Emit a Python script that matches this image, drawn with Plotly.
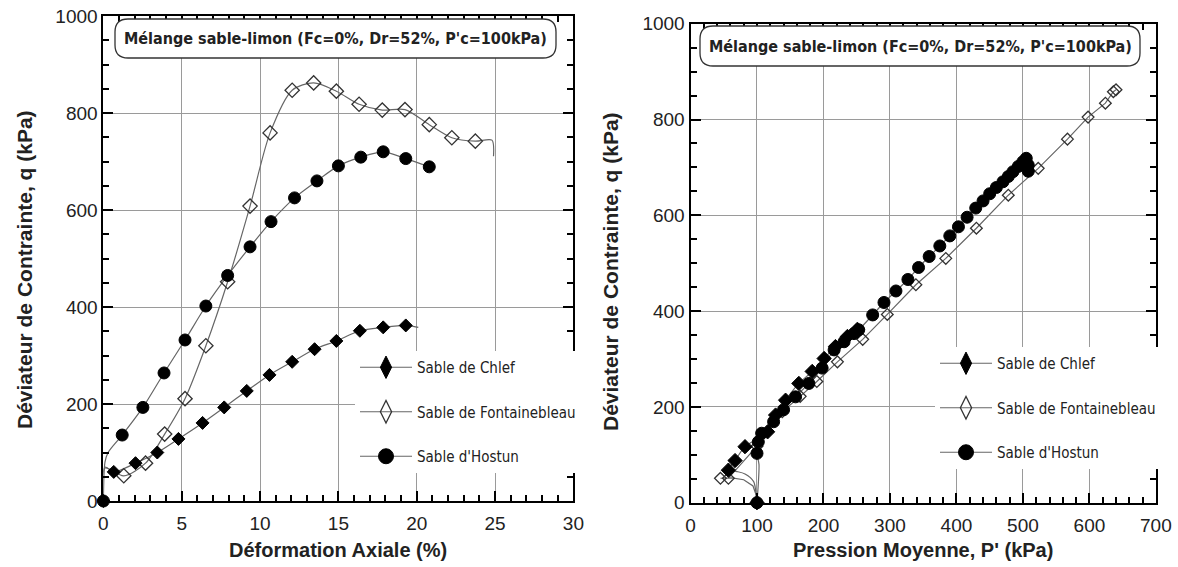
import plotly.graph_objects as go

W, H = 1178, 567

# ---------------- Left plot data: q vs axial strain ----------------
chlef_eps = [0, 0.66, 2.05, 3.44, 4.79, 6.33, 7.71, 9.15, 10.6, 12.05, 13.48, 14.87, 16.37, 17.86, 19.3]
chlef_q = [0, 60, 78, 100, 128, 161, 193, 227, 260, 287, 313, 330, 351, 358, 362]
chlef_curve_eps = [0, 0.1, 0.66, 2.05, 3.44, 4.79, 6.33, 7.71, 9.15, 10.6, 12.05, 13.48, 14.87, 16.37, 17.86, 19.3, 20.1]
chlef_curve_q = [0, 70, 60, 78, 100, 128, 161, 193, 227, 260, 287, 313, 330, 351, 358, 362, 358]

font_eps = [1.3, 2.69, 3.91, 5.21, 6.54, 7.93, 9.36, 10.64, 12.05, 13.42, 14.87, 16.32, 17.8, 19.25, 20.8, 22.24, 23.74]
font_q = [52, 78, 138, 211, 320, 452, 608, 759, 847, 862, 845, 818, 806, 807, 776, 749, 742]
font_curve_eps = [0, 0.1, 1.3, 2.69, 3.91, 5.21, 6.54, 7.93, 9.36, 10.64, 12.05, 13.42, 14.87, 16.32, 17.8, 19.25, 20.8, 22.24, 23.74, 24.8, 24.9]
font_curve_q = [0, 68, 52, 78, 138, 211, 320, 452, 608, 759, 847, 862, 845, 818, 806, 807, 776, 749, 742, 744, 711]

hostun_eps = [0, 1.2, 2.52, 3.87, 5.21, 6.54, 7.93, 9.36, 10.7, 12.2, 13.63, 15.0, 16.43, 17.86, 19.3, 20.8]
hostun_q = [0, 136, 193, 264, 332, 402, 465, 524, 576, 625, 660, 691, 709, 720, 706, 689]
hostun_curve_eps = [0, 0.1, 0.3, 1.2, 2.52, 3.87, 5.21, 6.54, 7.93, 9.36, 10.7, 12.2, 13.63, 15.0, 16.43, 17.86, 19.3, 20.8]
hostun_curve_q = [0, 80, 100, 136, 193, 264, 332, 402, 465, 524, 576, 625, 660, 691, 709, 720, 706, 689]

# ---------------- Right plot data: q vs p' ----------------
chlef_p = [100, 57, 67, 82, 116, 128, 143, 163, 183, 201, 218, 236, 251]
chlef_qp = [0, 68, 88, 117, 148, 183, 214, 249, 274, 301, 326, 347, 362]
chlef_path_p = [100, 99, 95, 82, 70, 57, 67, 82, 116, 128, 143, 163, 183, 201, 218, 236, 251]
chlef_path_q = [0, 13, 44, 60, 65, 68, 88, 117, 148, 183, 214, 249, 274, 301, 326, 347, 362]

font_p = [45, 57, 100, 138, 165, 190, 221, 259, 296, 339, 384, 430, 478, 523, 567, 598, 624, 636, 640]
font_qp = [51, 51, 118, 190, 222, 253, 294, 341, 393, 455, 510, 573, 642, 698, 759, 805, 834, 858, 862]
font_path_p = [100, 99, 94, 80, 62, 45, 57, 100, 138, 165, 190, 221, 259, 296, 339, 384, 430, 478, 523, 567, 598, 624, 636, 640]
font_path_q = [0, 15, 35, 48, 52, 51, 51, 118, 190, 222, 253, 294, 341, 393, 455, 510, 573, 642, 698, 759, 805, 834, 858, 862]

hostun_p = [100, 100, 102, 107, 125, 140, 158, 178, 198, 216, 231, 246, 253, 274, 291, 309, 327, 343, 359, 375, 390,
            403, 416, 429, 440, 450, 460, 470, 478, 485, 493, 500, 505, 508, 508]
hostun_qp = [0, 103, 127, 145, 169, 194, 221, 249, 281, 319, 336, 353, 361, 392, 418, 442, 466, 491, 514, 536, 557,
             576, 596, 615, 630, 645, 658, 670, 681, 691, 702, 712, 719, 705, 692]
hostun_path_p = [100, 102, 103, 100] + hostun_p[2:]
hostun_path_q = [0, 40, 80, 103] + hostun_qp[2:]

series_names = ["Sable de Chlef", "Sable de Fontainebleau", "Sable d'Hostun"]
title_txt = "Mélange sable-limon (Fc=0%, Dr=52%, P'c=100kPa)"

# ---------------- Styles ----------------
LINE_C = "#666666"
TXT_C = "#222222"
COND = "DejaVu Sans Condensed, Liberation Sans Narrow, Arial Narrow, sans-serif"
SANS = "Liberation Sans, Arial, sans-serif"

fig = go.Figure()


def curve(x, y, xa, ya, shape="spline"):
    fig.add_trace(go.Scatter(x=x, y=y, xaxis=xa, yaxis=ya, mode="lines",
                             line=dict(color=LINE_C, width=1.2, shape=shape, smoothing=0.8),
                             showlegend=False, hoverinfo="skip"))


def marker_style(symbol, size):
    if symbol.endswith("open"):
        return dict(symbol=symbol, size=size, color="#333333", line=dict(color="#333333", width=1.3))
    return dict(symbol=symbol, size=size, color="black", line=dict(color="black", width=1))


def marks(x, y, xa, ya, symbol, size):
    fig.add_trace(go.Scatter(x=x, y=y, xaxis=xa, yaxis=ya, mode="markers",
                             marker=marker_style(symbol, size),
                             cliponaxis=False, showlegend=False))


# Left plot
curve(chlef_curve_eps, chlef_curve_q, "x", "y")
curve(font_curve_eps, font_curve_q, "x", "y")
curve(hostun_curve_eps, hostun_curve_q, "x", "y")
marks(font_eps, font_q, "x", "y", "diamond-open", 11)
marks(chlef_eps, chlef_q, "x", "y", "diamond", 10)
marks(hostun_eps, hostun_q, "x", "y", "circle", 12)

# Right plot
curve(font_path_p, font_path_q, "x2", "y2", shape="linear")
curve(chlef_path_p, chlef_path_q, "x2", "y2")
curve(hostun_path_p, hostun_path_q, "x2", "y2")
marks(font_p, font_qp, "x2", "y2", "diamond-open", 9)
marks(chlef_p, chlef_qp, "x2", "y2", "diamond", 11)
marks(hostun_p, hostun_qp, "x2", "y2", "circle", 12)

# Legend-only entries
symbols = ["diamond-tall", "diamond-tall-open", "circle"]
for leg, xa, ya in [("legend", "x", "y"), ("legend2", "x2", "y2")]:
    for i, (nm, sym) in enumerate(zip(series_names, symbols)):
        fig.add_trace(go.Scatter(x=[None], y=[None], xaxis=xa, yaxis=ya, mode="lines+markers", name=nm,
                                 legend=leg, legendgroup=leg + str(i),
                                 line=dict(color=LINE_C, width=1.2),
                                 marker=marker_style(sym, 16 if sym != "circle" else 15)))

axis_common = dict(showline=True, linecolor="black", linewidth=2, mirror="allticks",
                   ticks="inside", tickcolor="black", tickwidth=1.5, ticklen=10,
                   showgrid=True, gridcolor="#9a9a9a", gridwidth=1, zeroline=False,
                   tickfont=dict(family=SANS, size=19, color=TXT_C), automargin=False)

fig.update_layout(
    width=W, height=H, margin=dict(l=0, r=0, t=0, b=0),
    paper_bgcolor="white", plot_bgcolor="white",
    xaxis=dict(domain=[103.4 / W, 573.4 / W], range=[0, 30], dtick=5, ticklabelstandoff=4,
               minor=dict(dtick=1, ticks="inside", ticklen=6, tickcolor="black", showgrid=False),
               anchor="y", **axis_common),
    yaxis=dict(domain=[(H - 501) / H, (H - 16) / H], range=[0, 1000], dtick=200,
               minor=dict(dtick=50, ticks="inside", ticklen=6, tickcolor="black", showgrid=False),
               anchor="x", **axis_common),
    xaxis2=dict(domain=[690.5 / W, 1155.9 / W], range=[0, 700], dtick=100, ticklabelstandoff=4,
                minor=dict(dtick=20, ticks="inside", ticklen=6, tickcolor="black", showgrid=False),
                anchor="y2", **axis_common),
    yaxis2=dict(domain=[(H - 502.7) / H, (H - 23.7) / H], range=[0, 1000], dtick=200,
                minor=dict(dtick=50, ticks="inside", ticklen=6, tickcolor="black", showgrid=False),
                anchor="x2", **axis_common),
    legend=dict(x=355 / W, y=(H - 351) / H, xanchor="left", yanchor="top", bgcolor="white",
                borderwidth=0, traceorder="grouped", tracegroupgap=22, itemwidth=52,
                font=dict(family=COND, size=15, color=TXT_C)),
    legend2=dict(x=935 / W, y=(H - 347) / H, xanchor="left", yanchor="top", bgcolor="white",
                 borderwidth=0, traceorder="grouped", tracegroupgap=22, itemwidth=52,
                 font=dict(family=COND, size=15, color=TXT_C)),
)


def X(px):
    return px / W


def Y(py):
    return 1 - py / H


def rounded(x0, y0, x1, y1, r):
    return (f"M {X(x0 + r)},{Y(y0)} L {X(x1 - r)},{Y(y0)} Q {X(x1)},{Y(y0)} {X(x1)},{Y(y0 + r)} "
            f"L {X(x1)},{Y(y1 - r)} Q {X(x1)},{Y(y1)} {X(x1 - r)},{Y(y1)} "
            f"L {X(x0 + r)},{Y(y1)} Q {X(x0)},{Y(y1)} {X(x0)},{Y(y1 - r)} "
            f"L {X(x0)},{Y(y0 + r)} Q {X(x0)},{Y(y0)} {X(x0 + r)},{Y(y0)} Z")


# White areas behind the legends (hide the grid there)
for (x0, y0, x1, y1) in [(347, 334, 572, 482), (933, 342, 1155, 481)]:
    fig.add_shape(type="rect", xref="paper", yref="paper", x0=X(x0), x1=X(x1), y0=Y(y1), y1=Y(y0),
                  fillcolor="white", line=dict(width=0), layer="between")

for (x0, y0, x1, y1) in [(115, 19, 556, 58), (700, 26, 1140, 66)]:
    fig.add_shape(type="path", xref="paper", yref="paper", path=rounded(x0, y0, x1, y1, 13),
                  fillcolor="white", line=dict(color="#333333", width=1.3), layer="above")
    fig.add_annotation(x=X((x0 + x1) / 2), y=Y((y0 + y1) / 2), xref="paper", yref="paper",
                       text=title_txt, showarrow=False, xanchor="center", yanchor="middle",
                       font=dict(family=COND, size=16, color=TXT_C, weight="bold"))

# Axis titles
TITLE_FONT = dict(family=SANS, size=20, color=TXT_C, weight="bold")
YTITLE_FONT = dict(family=SANS, size=21, color=TXT_C, weight="bold")
fig.add_annotation(x=X(338), y=Y(550), xref="paper", yref="paper", text="Déformation Axiale (%)",
                   showarrow=False, xanchor="center", yanchor="middle", font=TITLE_FONT)
fig.add_annotation(x=X(923), y=Y(550), xref="paper", yref="paper", text="Pression Moyenne, P' (kPa)",
                   showarrow=False, xanchor="center", yanchor="middle", font=TITLE_FONT)
fig.add_annotation(x=X(24), y=Y(270), xref="paper", yref="paper", text="Déviateur de Contrainte, q (kPa)",
                   showarrow=False, textangle=-90, xanchor="center", yanchor="middle", font=YTITLE_FONT)
fig.add_annotation(x=X(610), y=Y(272), xref="paper", yref="paper", text="Déviateur de Contrainte, q (kPa)",
                   showarrow=False, textangle=-90, xanchor="center", yanchor="middle", font=YTITLE_FONT)

fig.write_html("out.html")
